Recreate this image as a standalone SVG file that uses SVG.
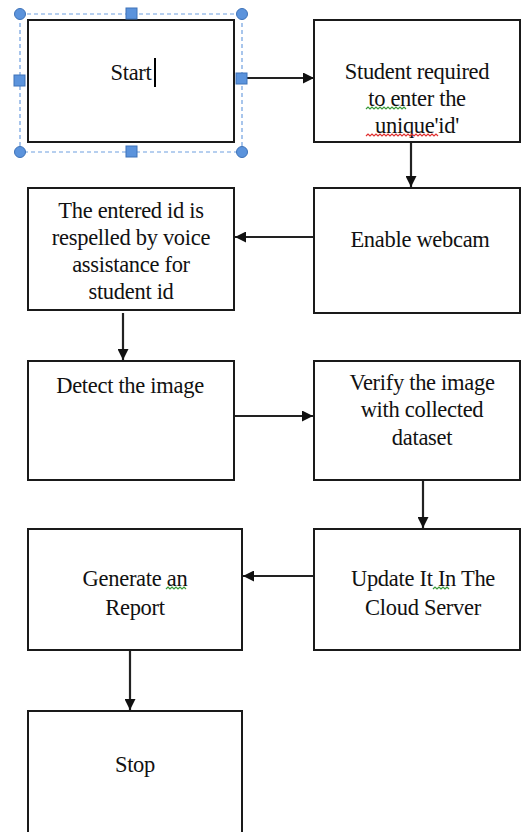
<svg xmlns="http://www.w3.org/2000/svg" width="523" height="832" viewBox="0 0 523 832" font-family="Liberation Serif, Times New Roman, DejaVu Serif, serif">
<style>
.box{fill:#fff;stroke:#1a1a1a;stroke-width:2}
.t{font-size:22.5px;fill:#111;text-anchor:middle;letter-spacing:-0.3px}
.c{stroke:#222;stroke-width:2.2;fill:none}
.h{fill:#5b93dc;stroke:#3e72b8;stroke-width:1}
.sq{fill:none;stroke-width:1.2}
</style>
<defs>
<marker id="ah" viewBox="0 0 10 10" refX="10" refY="5" markerWidth="5" markerHeight="5" orient="auto" markerUnits="strokeWidth">
<path d="M0,0 L10,5 L0,10 Z" fill="#111"/>
</marker>
</defs>
<rect width="523" height="832" fill="#fff"/>
<g id="connectors">
<line class="c" x1="242" y1="78" x2="314" y2="78" marker-end="url(#ah)"/>
<line class="c" x1="411" y1="142" x2="411" y2="187" marker-end="url(#ah)"/>
<line class="c" x1="314" y1="237" x2="235" y2="237" marker-end="url(#ah)"/>
<line class="c" x1="123" y1="313" x2="123" y2="360" marker-end="url(#ah)"/>
<line class="c" x1="235" y1="416" x2="313" y2="416" marker-end="url(#ah)"/>
<line class="c" x1="423" y1="470" x2="423" y2="528" marker-end="url(#ah)"/>
<line class="c" x1="314" y1="576" x2="243" y2="576" marker-end="url(#ah)"/>
<line class="c" x1="130" y1="642" x2="130" y2="710" marker-end="url(#ah)"/>
</g>
<g id="start">
<rect class="box" x="28" y="20" width="206" height="122"/>
<text class="t" x="131" y="80">Start</text>
<rect x="154" y="58" width="2" height="29" fill="#000"/>
<rect x="20" y="14" width="222" height="138" fill="none" stroke="#6fa0e0" stroke-width="1.2" stroke-dasharray="4,3"/>
<circle class="h" cx="20" cy="14" r="5.5"/>
<circle class="h" cx="242" cy="14" r="5.5"/>
<circle class="h" cx="20" cy="152" r="5.5"/>
<circle class="h" cx="242" cy="152" r="5.5"/>
<rect class="h" x="126" y="8" width="11" height="11"/>
<rect class="h" x="126" y="146" width="11" height="11"/>
<rect class="h" x="14" y="75" width="11" height="11"/>
<rect class="h" x="236" y="73" width="11" height="11"/>
</g>
<g id="student">
<rect class="box" x="314" y="20" width="206" height="122"/>
<text class="t" x="417" y="79">Student required</text>
<text class="t" x="417" y="106">to enter the</text>
<text class="t" x="417" y="133">unique'id'</text>
<path d="M366,109 l2,-2 l2,2 l2,-2 l2,2 l2,-2 l2,2 l2,-2 l2,2 l2,-2 l2,2 l2,-2 l2,2 l2,-2 l2,2 l2,-2 l2,2 l2,-2 l2,2 l2,-2 l2,2" class="sq" stroke="#3a9a3a"/>
<path d="M366,136 l2,-2 l2,2 l2,-2 l2,2 l2,-2 l2,2 l2,-2 l2,2 l2,-2 l2,2 l2,-2 l2,2 l2,-2 l2,2 l2,-2 l2,2 l2,-2 l2,2 l2,-2 l2,2 l2,-2 l2,2 l2,-2 l2,2 l2,-2 l2,2 l2,-2 l2,2 l2,-2 l2,2 l2,-2 l2,2 l2,-2 l2,2 l2,-2 l2,2" class="sq" stroke="#e03030"/>
</g>
<g id="respelled">
<rect class="box" x="28" y="188" width="206" height="122"/>
<text class="t" x="131" y="218">The entered id is</text>
<text class="t" x="131" y="245">respelled by voice</text>
<text class="t" x="131" y="272">assistance for</text>
<text class="t" x="131" y="299">student id</text>
</g>
<g id="webcam">
<rect class="box" x="314" y="188" width="206" height="125"/>
<text class="t" x="420" y="247">Enable webcam</text>
</g>
<g id="detect">
<rect class="box" x="28" y="361" width="206" height="119"/>
<text class="t" x="130" y="393">Detect the image</text>
</g>
<g id="verify">
<rect class="box" x="314" y="361" width="206" height="119"/>
<text class="t" x="422" y="390">Verify the image</text>
<text class="t" x="422" y="417">with collected</text>
<text class="t" x="422" y="445">dataset</text>
</g>
<g id="update">
<rect class="box" x="314" y="529" width="206" height="121"/>
<text class="t" x="423" y="586">Update It In The</text>
<text class="t" x="423" y="615">Cloud Server</text>
<path d="M433,589 l2,-2 l2,2 l2,-2 l2,2 l2,-2 l2,2 l2,-2 l2,2" class="sq" stroke="#3a9a3a"/>
</g>
<g id="generate">
<rect class="box" x="28" y="529" width="214" height="121"/>
<text class="t" x="135" y="586">Generate an</text>
<text class="t" x="135" y="615">Report</text>
<path d="M166,589 l2,-2 l2,2 l2,-2 l2,2 l2,-2 l2,2 l2,-2 l2,2 l2,-2 l2,2" class="sq" stroke="#3a9a3a"/>
</g>
<g id="stop">
<rect class="box" x="28" y="711" width="214" height="125"/>
<text class="t" x="135" y="772">Stop</text>
</g>
</svg>
